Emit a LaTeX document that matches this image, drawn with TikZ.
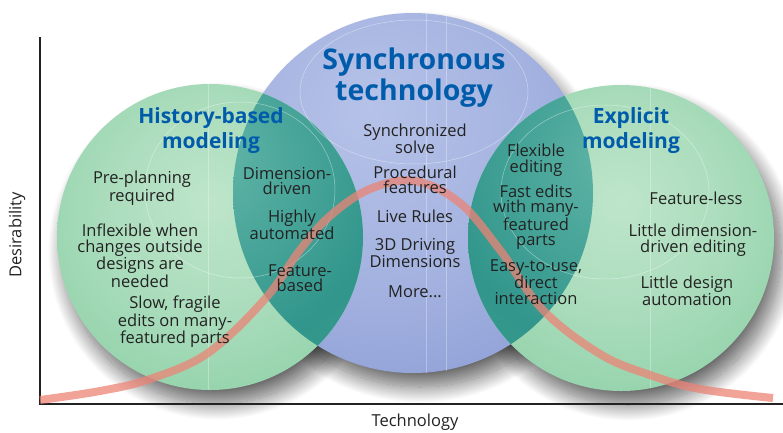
\documentclass[tikz,border=0pt]{standalone}
\usepackage{fontspec}
\setmainfont{Open Sans}
\usetikzlibrary{shadows.blur}

\definecolor{titleblue}{RGB}{0,92,170}
\definecolor{ink}{RGB}{34,34,34}
\definecolor{gin}{RGB}{190,229,202}
\definecolor{gout}{RGB}{118,198,150}
\definecolor{bin}{RGB}{182,194,232}
\definecolor{bout}{RGB}{120,140,204}
\definecolor{tin}{RGB}{98,182,168}
\definecolor{tout}{RGB}{50,150,140}
\definecolor{bellred}{RGB}{236,132,118}

\pgfdeclareradialshading{greenball}{\pgfpoint{0bp}{6bp}}{color(0bp)=(gin); color(16bp)=(gin!75!gout); color(50bp)=(gout); color(90bp)=(gout)}
\pgfdeclareradialshading{blueball}{\pgfpoint{-6bp}{12bp}}{color(0bp)=(bin); color(22bp)=(bin!70!bout); color(55bp)=(bout); color(90bp)=(bout)}
\pgfdeclareradialshading{tealball}{\pgfpoint{0bp}{14bp}}{color(0bp)=(tin); color(28bp)=(tout); color(52bp)=(tout!85!gout); color(90bp)=(gout)}

\tikzset{
	ball/.style={shading=#1},
	ballshadow/.style={blur shadow={shadow xshift=7pt, shadow yshift=-14pt, shadow blur radius=16pt, shadow blur steps=24, shadow opacity=60}},
	gloss/.style={white, line width=.5pt, opacity=.45},
	title/.style={align=center, text=titleblue, font=\bfseries\fontsize{21}{25}\selectfont, inner sep=0},
	txt/.style={align=center, text=ink, font=\fontsize{16.5}{15.5}\selectfont, inner sep=0},
	axis/.style={line width=1.1pt, ink},
	bellcurve/.style={line width=8pt, bellred, opacity=.75}
}

\begin{document}
\begin{tikzpicture}[x=1pt, y=-1pt]
\useasboundingbox (0,0) rectangle (783,432);

\coordinate (h) at (210,237);
\coordinate (s) at (413,193);
\coordinate (e) at (621,238);

% shadows first, then the balls
\foreach \c/\r in {s/180,h/153,e/153}{
	\path[ballshadow] (\c) circle[radius=\r pt];
}
\path[ball=blueball] (s) circle[radius=180pt];
\foreach \c in {h,e}{
	\path[ball=greenball] (\c) circle[radius=153pt];
}
\begin{scope}
\clip (s) circle[radius=180pt];
\foreach \c in {h,e}{
	\path[ball=tealball] (\c) circle[radius=153pt];
}
\end{scope}

% faint highlights
\draw[gloss] (240,190) ellipse[x radius=95pt, y radius=88pt];
\draw[gloss] (414,92) ellipse[x radius=114pt, y radius=72pt];
\draw[gloss] (605,192) ellipse[x radius=104pt, y radius=87pt];
\draw[gloss, opacity=.3] (h) ++(-2,-153) -- ++(0,306);
\draw[gloss, opacity=.3] (s) ++(13,-180) -- ++(0,360);
\draw[gloss, opacity=.3] (s) ++(33,-178) -- ++(0,356);
\draw[gloss, opacity=.3] (e) ++(29,-150) -- ++(0,300);

% axes
\coordinate (top) at (40,37);
\coordinate (o) at (40,404);
\coordinate (right) at (783,404);
\draw[axis] (top) -- (o) -- (right);

\draw[bellcurve] plot[smooth, tension=.6] coordinates {
	(40,400) (100,391) (150,379) (208,353) (265,299) (300,250) (330,216)
	(370,189) (415,181) (460,203) (500,250) (543,310) (600,354) (650,375)
	(700,389) (773,398)};

\node[title] (history) at (211,131) {History-based\\modeling};
\node[title, font=\bfseries\fontsize{28.5}{31}\selectfont] (synchronous) at (414,78) {Synchronous\\technology};
\node[title] (explicit) at (631,131) {Explicit\\modeling};

\node[txt] (preplan) at (142,188) {Pre-planning\\required};
\node[txt] (inflex) at (140,256) {Inflexible when\\changes outside\\designs are\\needed};
\node[txt] (slow) at (175,322) {Slow, fragile\\edits on many-\\featured parts};
\node[txt] (dimdriven) at (287,181) {Dimension-\\driven};
\node[txt] (highly) at (292,225) {Highly\\automated};
\node[txt] (featbased) at (300,278) {Feature-\\based};

\node[txt] (solve) at (415,139) {Synchronized\\solve};
\node[txt] (proc) at (415,180) {Procedural\\features};
\node[txt] (rules) at (415,216) {Live Rules};
\node[txt] (driving) at (415,253) {3D Driving\\Dimensions};
\node[txt] (more) at (415,292) {More...};

\node[txt] (flex) at (536,160) {Flexible\\editing};
\node[txt] (fast) at (536,217) {Fast edits\\with many-\\featured\\parts};
\node[txt] (easy) at (536,282) {Easy-to-use,\\direct\\interaction};
\node[txt] (less) at (696,198) {Feature-less};
\node[txt] (littledim) at (693,240) {Little dimension-\\driven editing};
\node[txt] (littledes) at (687,291) {Little design\\automation};

\node[txt, rotate=90] (ylabel) at (17,235) {Desirability};
\node[txt] (xlabel) at (415,422) {Technology};
\end{tikzpicture}
\end{document}
